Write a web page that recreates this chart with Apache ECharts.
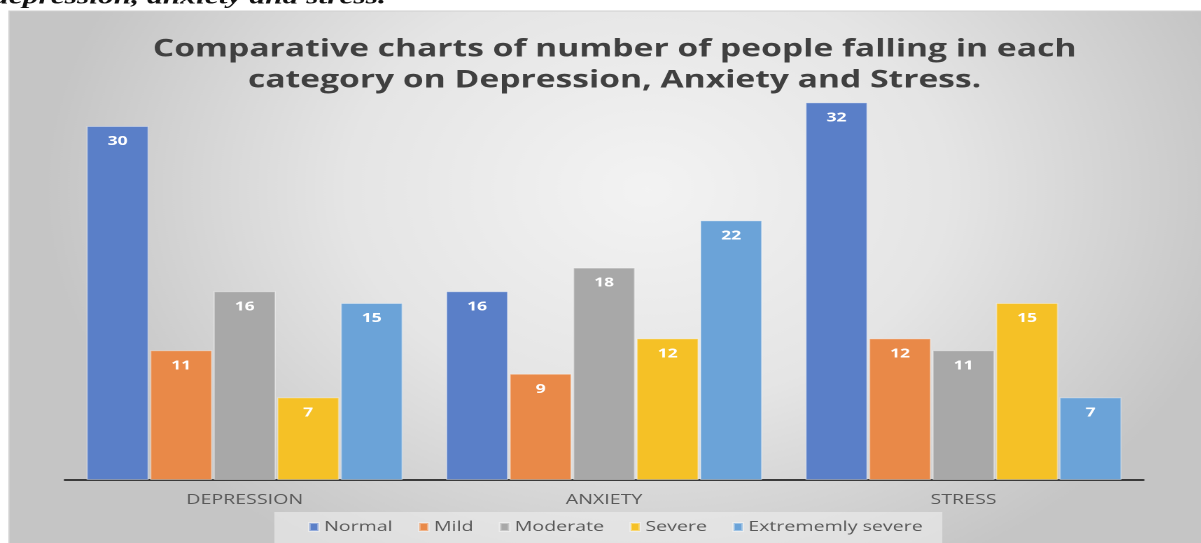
<!DOCTYPE html>
<html><head><meta charset="utf-8">
<script src="https://cdn.jsdelivr.net/npm/echarts@6/dist/echarts.min.js"></script>
<style>
html,body{margin:0;padding:0;background:#fff;overflow:hidden;width:1201px;height:543px}
#c{width:858px;height:543px;transform:scaleX(1.4);transform-origin:0 0}
</style>
</head><body><div id="c"></div>
<script>
const categories = ['DEPRESSION', 'ANXIETY', 'STRESS'];
const seriesNames = ['Normal', 'Mild', 'Moderate', 'Severe', 'Extrememly severe'];
const normal = [30, 16, 32];
const mild = [11, 9, 12];
const moderate = [16, 18, 11];
const severe = [7, 12, 15];
const extreme = [15, 22, 7];
const colors = ['#5a7fc8', '#e98948', '#a8a8a8', '#f5c126', '#6ba3d8'];
const titleText = 'Comparative charts of number of people falling in each\ncategory on Depression, Anxiety and Stress.';
const captionText = 'depression, anxiety and stress.';

const values = [normal, mild, moderate, severe, extreme];
const chart = echarts.init(document.getElementById('c'), null, {renderer: 'canvas', devicePixelRatio: 2});
chart.setOption({
  backgroundColor: '#ffffff',
  animation: false,
  color: colors,
  graphic: [
    {type: 'rect', z: -10, silent: true, shape: {x: 6.5, y: 11, width: 860, height: 540},
     style: {fill: {type: 'radial', x: 0.53, y: 0.33, r: 0.8, colorStops: [
       {offset: 0, color: '#f3f3f3'}, {offset: 0.5, color: '#e5e5e5'}, {offset: 1, color: '#c5c5c5'}]},
       stroke: '#d0d0d0', lineWidth: 1}},
    {type: 'text', z: 5, left: -5, top: -14, style: {text: captionText,
       font: 'italic bold 22.5px "Liberation Serif"', fill: '#111'}}
  ],
  title: {text: titleText, left: 434, textAlign: 'center', top: 29,
    textStyle: {fontFamily: 'Open Sans', fontWeight: 'bold', fontSize: 24, color: '#404040', lineHeight: 31}},
  legend: {data: seriesNames, left: 196, bottom: 0, itemWidth: 6.5, itemHeight: 8, itemGap: 18,
    icon: 'rect', padding: [8, 14, 9, 24], backgroundColor: 'rgba(238,238,238,0.6)',
    textStyle: {fontFamily: 'Open Sans', fontSize: 14, color: '#595959', padding: [0, 0, 0, -1]}},
  grid: {left: 46.4, right: 41.4, top: 67, bottom: 63},
  xAxis: {type: 'category', data: categories,
    axisLine: {lineStyle: {color: '#3a3a3a', width: 2}}, axisTick: {show: false},
    axisLabel: {fontFamily: 'Open Sans', fontSize: 14, color: '#595959', margin: 13}},
  yAxis: {type: 'value', min: 0, max: 35, show: false, splitLine: {show: false}},
  series: seriesNames.map((n, i) => ({
    name: n, type: 'bar', data: values[i], barCategoryGap: '12%', barGap: '2%',
    itemStyle: {borderColor: 'rgba(255,255,255,0.35)', borderWidth: 1},
    label: {show: true, position: 'insideTop', distance: 9, color: '#fff',
      fontFamily: 'Open Sans', fontWeight: 'bold', fontSize: 12.5}
  }))
});
</script></body></html>
